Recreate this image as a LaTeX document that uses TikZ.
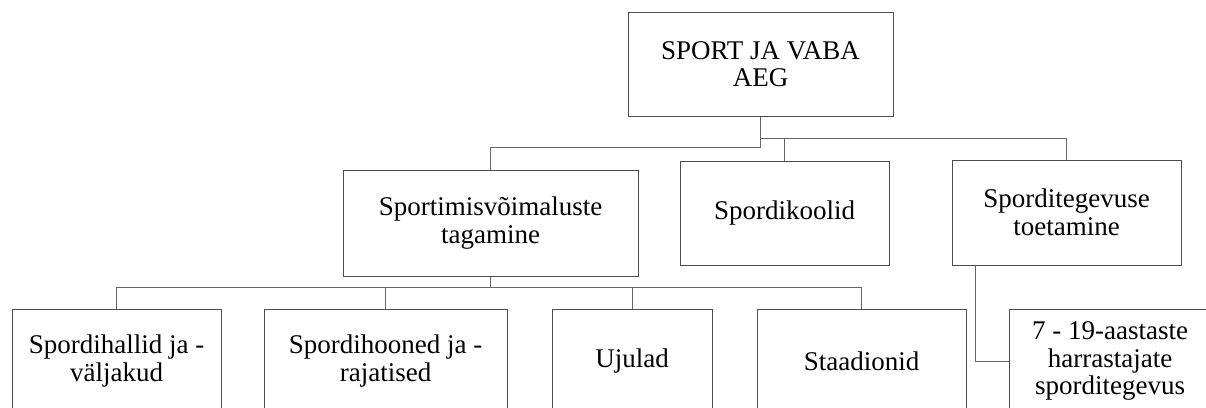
\documentclass[tikz,border=0pt]{standalone}
\usepackage{fontspec}
\setmainfont{Liberation Serif}
\begin{document}
\begin{tikzpicture}[x=1pt,y=-1pt,
box/.style={draw=black!70,line width=1pt,fill=white,align=center,
inner sep=0pt,minimum height=104pt,
font=\fontsize{27}{27.5}\selectfont},
link/.style={draw=black!60,line width=1pt}]
\useasboundingbox (0,0) rectangle (1206,407);
\clip (0,0) rectangle (1206,407);

\node[box,minimum width=265pt](top) at (760.5,64){SPORT JA VABA\\AEG};

\node[box,minimum width=295pt,minimum height=106pt](sport) at (490.5,223){Sportimisvõimaluste\\tagamine};

\node[box,minimum width=209pt](kool) at (784.5,213){Spordikoolid};

\node[box,minimum width=229pt,minimum height=105pt](toetus) at (1066.5,212.5){Sporditegevuse\\toetamine};

\node[box,minimum width=209pt](hall) at (116.5,361){Spordihallid ja -\\väljakud};

\node[box,minimum width=243pt](hoone) at (385.5,361){Spordihooned ja -\\rajatised};

\node[box,minimum width=160pt](ujula) at (632,361){Ujulad};

\node[box,minimum width=209pt](staadion) at (861.5,361){Staadionid};

\node[box,minimum width=202pt](noored) at (1110,361){7 - 19-aastaste\\harrastajate\\sporditegevus};


\draw [link] (top.south) -- ++(0,31) -| (sport.north);
\draw [link] (top.south) -- ++(0,22) -| (kool.north);
\draw [link] (top.south) -- ++(0,22) -| (toetus.north);
\draw [link] (sport.south) -- ++(0,11) -| (hall.north);
\draw [link] (sport.south) -- ++(0,11) -| (hoone.north);
\draw [link] (sport.south) -- ++(0,11) -| (ujula.north);
\draw [link] (sport.south) -- ++(0,11) -| (staadion.north);
\draw [link] ([xshift=24pt]toetus.south west) |- (noored.west);
\end{tikzpicture}
\end{document}
